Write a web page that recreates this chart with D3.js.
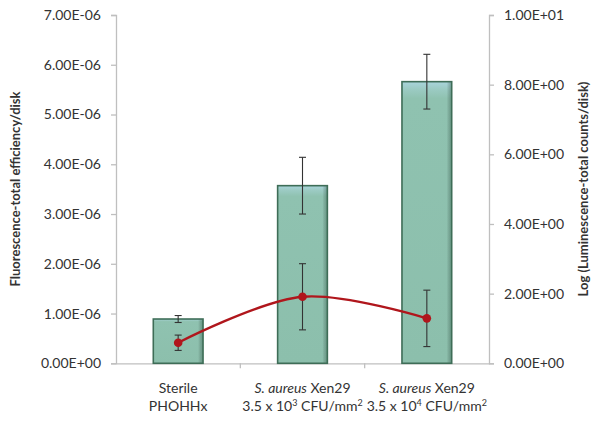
<!DOCTYPE html>
<html><head><meta charset="utf-8">
<script src="https://cdn.jsdelivr.net/npm/d3@7"></script>
<style>
body{margin:0;background:#fff;}
svg text{font-family:Lato,"Open Sans",sans-serif;fill:#333;}
</style></head>
<body><svg id="c" width="601" height="422"></svg>
<script>
const categories = ["Sterile PHOHHx", "Xen29 3.5e3", "Xen29 3.5e4"];
const fluorescence = [0.89e-6, 3.57e-6, 5.66e-6];
const fluorescenceErr = [0.07e-6, 0.57e-6, 0.55e-6];
const logLuminescence = [0.59, 1.91, 1.29];
const logLuminescenceErr = [0.22, 0.95, 0.81];
const leftTicks = [0, 1e-6, 2e-6, 3e-6, 4e-6, 5e-6, 6e-6, 7e-6];
const rightTicks = [0, 2, 4, 6, 8, 10];

const svg = d3.select("#c");
const m = {l:116, r:489, t:15, b:363.3};
const x = d3.scaleBand().domain(categories).range([m.l, m.r]).padding(0);
const yL = d3.scaleLinear().domain([0, 7e-6]).range([m.b, m.t]);
const yR = d3.scaleLinear().domain([0, 10]).range([m.b, m.t]);
const bw = x.bandwidth() * 0.4;
const cx = d => x(d) + x.bandwidth()/2;

const defs = svg.append("defs");
const g = defs.append("linearGradient").attr("id","barg").attr("x1",0).attr("y1",0).attr("x2",0).attr("y2",1);
g.append("stop").attr("offset","0%").attr("stop-color","#a9d4dc");
g.append("stop").attr("offset","2.5%").attr("stop-color","#9ccbc4");
g.append("stop").attr("offset","6%").attr("stop-color","#8fc2b0");
g.append("stop").attr("offset","100%").attr("stop-color","#8cbfac");
const gh = defs.append("linearGradient").attr("id","barh").attr("x1",0).attr("y1",0).attr("x2",1).attr("y2",0);
gh.append("stop").attr("offset","0%").attr("stop-color","#000").attr("stop-opacity",0);
gh.append("stop").attr("offset","90%").attr("stop-color","#000").attr("stop-opacity",0);
gh.append("stop").attr("offset","100%").attr("stop-color","#1d4a36").attr("stop-opacity",0.35);

function sci(v){
  if (v === 0) return "0.00E+00";
  const e = Math.floor(Math.log10(Math.abs(v)) + 1e-9);
  const mant = v / Math.pow(10, e);
  const es = (e < 0 ? "-" : "+") + String(Math.abs(e)).padStart(2, "0");
  return mant.toFixed(2) + "E" + es;
}

// Left axis
const axL = svg.append("g").attr("transform", `translate(${m.l},0)`)
  .call(d3.axisLeft(yL).tickValues(leftTicks).tickFormat(sci).tickSize(5).tickPadding(10));
axL.select(".domain").attr("stroke","#bfbfbf").attr("stroke-width",1.3);
axL.selectAll(".tick line").attr("stroke","#bfbfbf").attr("stroke-width",1.3);
axL.selectAll(".tick text").attr("font-size","14px").attr("fill","#3a3a3a");

// Right axis
const axR = svg.append("g").attr("transform", `translate(${m.r},0)`)
  .call(d3.axisRight(yR).tickValues(rightTicks).tickFormat(sci).tickSize(5).tickPadding(10));
axR.select(".domain").attr("stroke","#bfbfbf").attr("stroke-width",1.3);
axR.selectAll(".tick line").attr("stroke","#bfbfbf").attr("stroke-width",1.3);
axR.selectAll(".tick text").attr("font-size","14px").attr("fill","#3a3a3a");

// Bottom axis
const axB = svg.append("g").attr("transform", `translate(0,${m.b})`)
  .call(d3.axisBottom(x).tickSize(0).tickFormat(""));
axB.select(".domain").attr("stroke","#bfbfbf").attr("stroke-width",1.3);
x.domain().slice(1).forEach(d => {
  axB.append("line").attr("x1", x(d)).attr("x2", x(d)).attr("y1",0).attr("y2",5)
    .attr("stroke","#bfbfbf").attr("stroke-width",1.3);
});

// Bars
const bars = svg.append("g");
categories.forEach((c,i) => {
  const x0 = cx(c) - bw/2, y0 = yL(fluorescence[i]), h = yL(0) - yL(fluorescence[i]);
  bars.append("rect").attr("x",x0).attr("y",y0).attr("width",bw).attr("height",h)
    .attr("fill","url(#barg)");
  bars.append("rect").attr("x",x0).attr("y",y0).attr("width",bw).attr("height",h)
    .attr("fill","url(#barh)");
  bars.append("rect").attr("x",x0).attr("y",y0).attr("width",bw).attr("height",h)
    .attr("fill","none").attr("stroke","#3e6d57").attr("stroke-width",1.6);
});

// Error bars
function errBar(sel, xc, yTop, yBot){
  sel.append("line").attr("x1",xc).attr("x2",xc).attr("y1",yTop).attr("y2",yBot).attr("stroke","#333").attr("stroke-width",1.1);
  [yTop,yBot].forEach(yy => sel.append("line").attr("x1",xc-3.5).attr("x2",xc+3.5).attr("y1",yy).attr("y2",yy).attr("stroke","#333").attr("stroke-width",1.1));
}
const eb = svg.append("g");
categories.forEach((c,i) => {
  errBar(eb, cx(c), yL(fluorescence[i]+fluorescenceErr[i]), yL(fluorescence[i]-fluorescenceErr[i]));
});
categories.forEach((c,i) => {
  errBar(eb, cx(c), yR(logLuminescence[i]+logLuminescenceErr[i]), yR(logLuminescence[i]-logLuminescenceErr[i]));
});

// Line
const pts = categories.map((c,i) => [cx(c), yR(logLuminescence[i])]);
svg.append("path").attr("d", d3.line().curve(d3.curveCatmullRom.alpha(0.5))(pts))
  .attr("fill","none").attr("stroke","#b0161c").attr("stroke-width",2.4);
svg.append("g").selectAll("circle").data(pts).join("circle")
  .attr("cx",d=>d[0]).attr("cy",d=>d[1]).attr("r",4.3).attr("fill","#b0161c");

// Category labels
const lab = svg.append("g").attr("font-size","14px").attr("text-anchor","middle");
lab.append("text").attr("x",cx(categories[0])).attr("y",393).attr("fill","#3a3a3a").text("Sterile");
lab.append("text").attr("x",cx(categories[0])).attr("y",411).attr("fill","#3a3a3a").text("PHOHHx");
[[1,"3"],[2,"4"]].forEach(([i,exp]) => {
  const t = lab.append("text").attr("x",cx(categories[i])).attr("y",393).attr("fill","#3a3a3a");
  t.append("tspan").attr("font-style","italic").text("S. aureus");
  t.append("tspan").text(" Xen29");
  const t2 = lab.append("text").attr("x",cx(categories[i])).attr("y",411).attr("fill","#3a3a3a");
  t2.append("tspan").text("3.5 x 10");
  t2.append("tspan").attr("font-size","9px").attr("dy",-5).text(exp);
  t2.append("tspan").attr("dy",5).text(" CFU/mm");
  t2.append("tspan").attr("font-size","9px").attr("dy",-5).text("2");
});

// Axis titles
svg.append("text").attr("transform","translate(20,189) rotate(-90)").attr("text-anchor","middle")
  .attr("font-size","13px").attr("font-weight","bold").attr("fill","#1a1a1a")
  .text("Fluorescence-total efficiency/disk");
svg.append("text").attr("transform","translate(588,189) rotate(-90)").attr("text-anchor","middle")
  .attr("font-size","13px").attr("font-weight","bold").attr("fill","#1a1a1a")
  .text("Log (Luminescence-total counts/disk)");
</script></body></html>
